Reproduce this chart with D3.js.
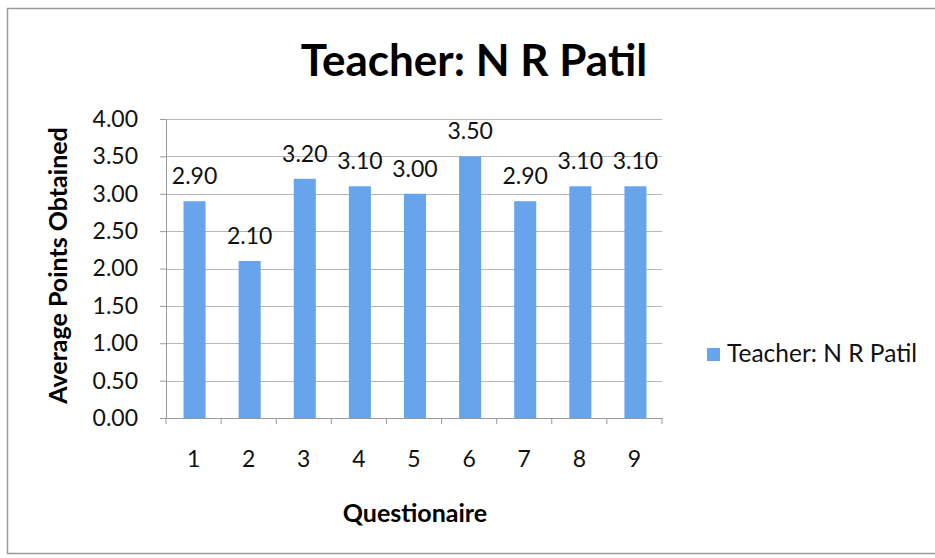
<!DOCTYPE html>
<html><head><meta charset="utf-8">
<script src="https://cdn.jsdelivr.net/npm/d3@7/dist/d3.min.js"></script>
<style>body{margin:0;background:#fff}svg{display:block}text{font-family:Lato,"Open Sans",sans-serif}</style>
</head><body>
<script>
const categories = ["1","2","3","4","5","6","7","8","9"];
const values = [2.90, 2.10, 3.20, 3.10, 3.00, 3.50, 2.90, 3.10, 3.10];
const yTicks = [0, 0.5, 1, 1.5, 2, 2.5, 3, 3.5, 4];
const seriesName = "Teacher: N R Patil";
const chartTitle = "Teacher: N R Patil";
const xTitle = "Questionaire";
const yTitle = "Average Points Obtained";

const W = 935, H = 558;
const svg = d3.select("body").append("svg").attr("width", W).attr("height", H);
svg.append("rect").attr("x", 7.5).attr("y", 8.5).attr("width", W).attr("height", 545)
  .attr("fill", "#fff").attr("stroke", "#9a9a9a").attr("stroke-width", 1.5);

const m = {left: 166, right: 662, top: 119, bottom: 418};
const x = d3.scaleBand().domain(categories).range([m.left, m.right]).paddingInner(0.6).paddingOuter(0.3);
const xb = d3.scaleBand().domain(categories).range([m.left, m.right]);
const y = d3.scaleLinear().domain([0, 4]).range([m.bottom, m.top]);
const color = "#68a4ec";
const fs = 23;

// gridlines
svg.append("g").selectAll("line").data(yTicks).join("line")
  .attr("x1", m.left).attr("x2", m.right)
  .attr("y1", d => Math.round(y(d)) + 0.5).attr("y2", d => Math.round(y(d)) + 0.5)
  .attr("stroke", "#b8b8b8").attr("stroke-width", 1);

// y axis
const ya = svg.append("g").attr("transform", `translate(${m.left},0)`)
  .call(d3.axisLeft(y).tickValues(yTicks).tickFormat(d3.format(".2f")).tickSize(6).tickPadding(22));
ya.select(".domain").attr("stroke", "#9a9a9a");
ya.selectAll(".tick line").attr("stroke", "#9a9a9a");
ya.selectAll("text").attr("font-size", fs).attr("fill", "#111");

// x axis
const xa = svg.append("g").attr("transform", `translate(0,${m.bottom})`)
  .call(d3.axisBottom(xb).tickSize(0).tickPadding(33));
xa.select(".domain").attr("stroke", "#9a9a9a");
xa.selectAll("text").attr("font-size", fs).attr("fill", "#111");
svg.append("g").selectAll("line").data(categories.concat(["end"])).join("line")
  .attr("x1", (d, i) => m.left + i * xb.step()).attr("x2", (d, i) => m.left + i * xb.step())
  .attr("y1", m.bottom).attr("y2", m.bottom + 6).attr("stroke", "#9a9a9a");

// bars
svg.append("g").selectAll("rect").data(values).join("rect")
  .attr("x", (d, i) => x(categories[i]) + 1).attr("width", x.bandwidth())
  .attr("y", d => y(d)).attr("height", d => y(0) - y(d)).attr("fill", color);

// labels
svg.append("g").selectAll("text").data(values).join("text")
  .attr("x", (d, i) => x(categories[i]) + 1 + x.bandwidth() / 2).attr("y", d => y(d) - 17)
  .attr("text-anchor", "middle").attr("font-size", fs).attr("fill", "#111")
  .text(d => d3.format(".2f")(d));

// title
svg.append("text").attr("x", 474).attr("y", 76).attr("text-anchor", "middle")
  .attr("font-size", 44).attr("font-weight", "bold").attr("fill", "#000").text(chartTitle);

svg.append("text").attr("x", 415).attr("y", 522).attr("text-anchor", "middle")
  .attr("font-size", 25).attr("font-weight", "bold").attr("fill", "#000").text(xTitle);

svg.append("text").attr("transform", `translate(67,${(m.top + m.bottom) / 2 - 3}) rotate(-90)`)
  .attr("text-anchor", "middle").attr("font-size", 25).attr("font-weight", "bold").attr("fill", "#000").text(yTitle);

// legend
const lg = svg.append("g").attr("transform", "translate(707,348)");
lg.append("rect").attr("width", 13).attr("height", 13).attr("fill", color);
lg.append("text").attr("x", 20).attr("y", 14).attr("font-size", 24.5).attr("fill", "#111").text(seriesName);
</script>
</body></html>
